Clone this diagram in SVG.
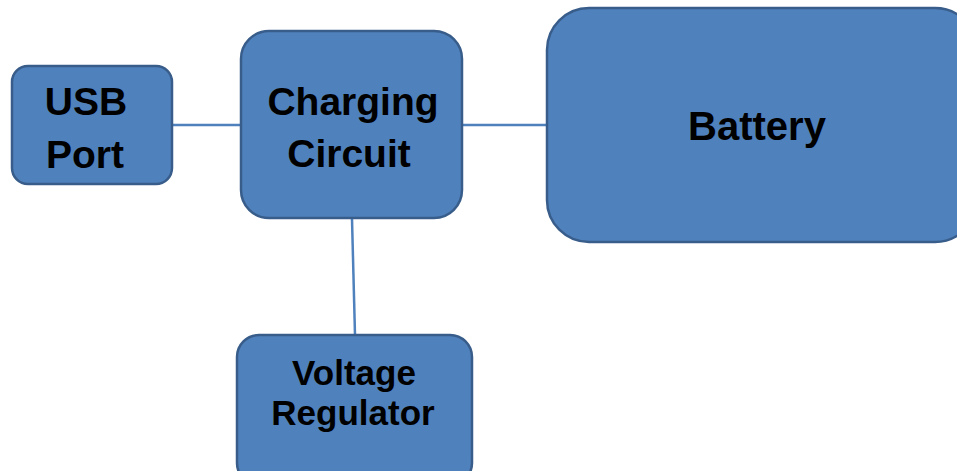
<svg xmlns="http://www.w3.org/2000/svg" width="957" height="471" viewBox="0 0 957 471">
<style>
.box{fill:#4F81BD;stroke:#385D8A;stroke-width:2.5}
.lbl{font-family:"Liberation Sans",Arial,sans-serif;font-weight:bold;fill:#000;text-anchor:middle}
.con{stroke:#4F81BD;stroke-width:2.5;fill:none}
</style>
<rect width="957" height="471" fill="#fff"/>
<g id="connectors">
<line class="con" x1="172" y1="125" x2="263" y2="125"/>
<line class="con" x1="462" y1="125" x2="548" y2="125"/>
<line class="con" x1="352" y1="219" x2="355" y2="335"/>
</g>
<g id="usb-port">
<rect class="box" x="12" y="66" width="160" height="118" rx="16"/>
<text class="lbl" x="86" y="115" font-size="39">USB</text>
<text class="lbl" x="85" y="168" font-size="39">Port</text>
</g>
<g id="charging-circuit">
<rect class="box" x="241" y="31" width="221" height="187" rx="28"/>
<text class="lbl" x="353" y="115" font-size="39">Charging</text>
<text class="lbl" x="349" y="167" font-size="39">Circuit</text>
</g>
<g id="battery">
<rect class="box" x="547" y="8" width="430" height="234" rx="42"/>
<text class="lbl" x="757" y="140" font-size="40">Battery</text>
</g>
<g id="voltage-regulator">
<rect class="box" x="237" y="335" width="235" height="150" rx="22"/>
<text class="lbl" x="354" y="385" font-size="35">Voltage</text>
<text class="lbl" x="353" y="425" font-size="35">Regulator</text>
</g>
</svg>
